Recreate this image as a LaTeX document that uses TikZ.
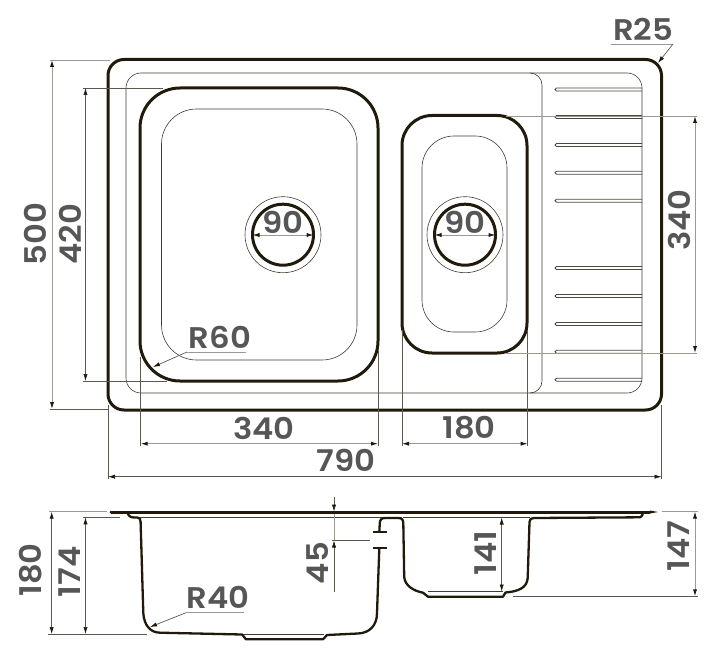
\documentclass[tikz,border=0pt]{standalone}
\usepackage{fontspec}
\setmainfont{Poppins}[BoldFont=Poppins SemiBold,BoldFeatures={FakeStretch=1.08}]
\usetikzlibrary{arrows.meta}
\definecolor{ink}{HTML}{1F1A0C}
\definecolor{dimline}{HTML}{5A5A52}
\definecolor{dimlight}{HTML}{9A9A92}
\definecolor{dimtext}{HTML}{565656}
\tikzset{
  x=1bp,y=-1bp,
  heavy/.style={draw=ink,line width=3bp,line join=round,line cap=round},
  medium/.style={draw=ink,line width=2.3bp,line join=round},
  fine/.style={draw=ink!85,line width=0.6bp},
  slot/.style={draw=ink!80,line width=0.8bp},
  dimarrow/.style={draw=dimline,line width=0.7bp,{Latex[length=7bp,width=4.2bp,color=ink]}-{Latex[length=7bp,width=4.2bp,color=ink]}},
  dimarrowlight/.style={draw=dimlight,line width=1bp,{Latex[length=7bp,width=4.2bp,color=ink]}-{Latex[length=7bp,width=4.2bp,color=ink]}},
  ext/.style={draw=dimline,line width=0.6bp},
  extlight/.style={draw=dimlight,line width=0.9bp},
  leader/.style={draw=dimline,line width=0.7bp,-{Latex[length=7bp,width=4.2bp,color=ink]}},
  under/.style={draw=dimlight,line width=0.9bp},
  lbl/.style={text=dimtext,font=\bfseries\fontsize{30}{30}\selectfont,inner sep=0pt},
  vlbl/.style={lbl,rotate=90},
}
\newcommand{\slotat}[1]{\draw[slot] (642,#1-1.5) -- (556.5,#1-1.5) arc[start angle=-90,end angle=-270,radius=1.5] -- (642,#1+1.5);}
\begin{document}
\begin{tikzpicture}
\useasboundingbox (0,0) rectangle (718,662);
% top view
\draw[heavy,rounded corners=16bp] (108,59.5) rectangle (661.5,410);
\draw[fine,rounded corners=15bp] (126,73) rectangle (642,393);
\draw[fine] (530,73) arc[start angle=-90,end angle=0,radius=12] -- (542,381) arc[start angle=0,end angle=90,radius=12];
\draw[heavy,rounded corners=40bp] (140,88) rectangle (378,381);
\draw[fine,rounded corners=35bp] (161.5,109) rectangle (357,360);
\draw[heavy,rounded corners=30bp] (402,115.5) rectangle (527,353);
\draw[fine,rounded corners=32bp] (422,136) rectangle (507,332);
\draw[heavy] (283,234.7) circle[radius=30.5];
\draw[fine] (283,234.7) circle[radius=38];
\draw[heavy] (465,234.7) circle[radius=30.5];
\draw[fine] (465,234.7) circle[radius=38];
\foreach \y in {89.5,117,145,172.7,200.7,268,296,324,351.7,379.7} {\slotat{\y}}
% top view dimensions
\draw[extlight] (50,60) -- (110,60);
\draw[ext] (50,409) -- (108,409);
\draw[dimarrowlight] (52,60) -- (52,409);
\draw[ext] (83,88) -- (163,88);
\draw[ext] (83,381) -- (167,381);
\draw[dimarrow] (85.5,88) -- (85.5,381);
\draw[ext] (140.7,357) -- (140.7,446);
\draw[ext] (378,350) -- (378,446);
\draw[ext] (402,330) -- (402,446);
\draw[ext] (527.6,330) -- (527.6,446);
\draw[dimarrowlight] (140.7,443.7) -- (378,443.7);
\draw[dimarrowlight] (402,443.7) -- (527.6,443.7);
\draw[ext] (108,405) -- (108,479);
\draw[ext] (661.5,405) -- (661.5,479);
\draw[dimarrow] (108,476.7) -- (661.5,476.7);
\draw[extlight] (506,116) -- (697,116);
\draw[extlight] (506,353) -- (697,353);
\draw[dimarrowlight] (695,116) -- (695,353);
\draw[dimarrowlight] (252.5,235) -- (313.5,235);
\draw[dimarrowlight] (434.5,235) -- (495.5,235);
\draw[under] (611,44) -- (673,44);
\draw[leader] (673,44) -- (658,63);
\draw[under] (187,352) -- (246,352);
\draw[leader] (187,352) -- (153,367);
% section
\draw[heavy,line cap=butt] (111,512) -- (650,512);
\fill[ink] (650,510.5) -- (658,512) -- (650,513.5) -- cycle;
\fill[ink] (111,510.5) -- (111,513.5) -- (109.5,512) -- cycle;
\draw[fine] (140,517.5) -- (402,517.5);
\draw[fine] (403,517.5) -- (530,517.5);
\draw[fine] (243,634) -- (324,634);
\draw[fine] (428,591.7) -- (503,591.7);
\draw[medium] (127.5,512) .. controls (128,515.5) and (130,517.5) .. (134,517.5) -- (137,517.5)
  .. controls (140,517.5) and (140.5,519) .. (140.6,522) -- (143.3,613)
  .. controls (144,625) and (150,632.5) .. (160,632.7) -- (242,634.5) -- (246,639.3) -- (323,639.3) -- (327,635)
  -- (358,633.5) .. controls (370,633) and (377,625) .. (377,613) -- (379.3,548.3);
\draw[medium] (372.7,548.3) -- (386.7,548.3);
\draw[medium] (372.7,532.3) -- (386.7,532.3);
\draw[medium] (379.3,532.3) -- (379.8,523) .. controls (380,519.5) and (381.5,518) .. (385,518) -- (398,518)
  .. controls (402,518) and (403,519.5) .. (403.3,523) -- (404.2,577)
  .. controls (405,586) and (414,591) .. (423,592.7) -- (428,596.7) -- (503,596.7) -- (505.5,592.5)
  .. controls (518,591.5) and (527,588) .. (527.7,578) -- (529.5,522)
  .. controls (529.7,519) and (531,518) .. (534,518) -- (640,517.3) .. controls (642,517.2) and (642.5,515) .. (643,512.5);
% section dimensions
\draw[extlight] (49,511.7) -- (107,511.7);
\draw[ext] (48,634) -- (147,634);
\draw[dimarrow] (51.7,511.7) -- (51.7,634);
\draw[ext] (83,517.3) -- (120,517.3);
\draw[dimarrow] (85.5,517.3) -- (85.5,634);
\draw[dimline,line width=0.6bp,-{Latex[length=7bp,width=4.2bp,color=ink]}] (334,497) -- (334,511.5);
\draw[dimline,line width=0.6bp,-{Latex[length=7bp,width=4.2bp,color=ink]}] (334,592) -- (334,540.5);
\draw[extlight,line width=0.5bp] (334,514) -- (334,540.5);
\draw[ext] (331.7,540.5) -- (370,540.5);
\draw[dimarrow] (501.7,517.5) -- (501.7,591.5);
\draw[extlight] (661.7,511.5) -- (697.7,511.5);
\draw[ext] (512.7,596.3) -- (697.7,596.3);
\draw[dimarrowlight] (695,511.5) -- (695,596.3);
\draw[under] (186,612.7) -- (244,612.7);
\draw[leader] (186,612.7) -- (150,627);
% labels
\node[vlbl] (t500) at (35,234) {500};
\node[vlbl] (t420) at (70,234) {420};
\node[vlbl] (t340r) at (679,220) {340};
\node[lbl] (t340) at (264,428) {340};
\node[lbl] (t180) at (469,428) {180};
\node[lbl] (t790) at (346,460) {790};
\node[lbl] (t90a) at (283,222) {90};
\node[lbl] (t90b) at (465,222) {90};
\node[lbl] (tr25) at (643,29) {R25};
\node[lbl] (tr60) at (220,337) {R60};
\node[lbl] (tr40) at (218,597) {R40};
\node[vlbl] (t180s) at (31,570) {180};
\node[vlbl] (t174) at (69.5,572) {174};
\node[vlbl] (t45) at (318,563) {45};
\node[vlbl] (t141) at (486,553) {141};
\node[vlbl] (t147) at (679,546) {147};
\end{tikzpicture}
\end{document}
